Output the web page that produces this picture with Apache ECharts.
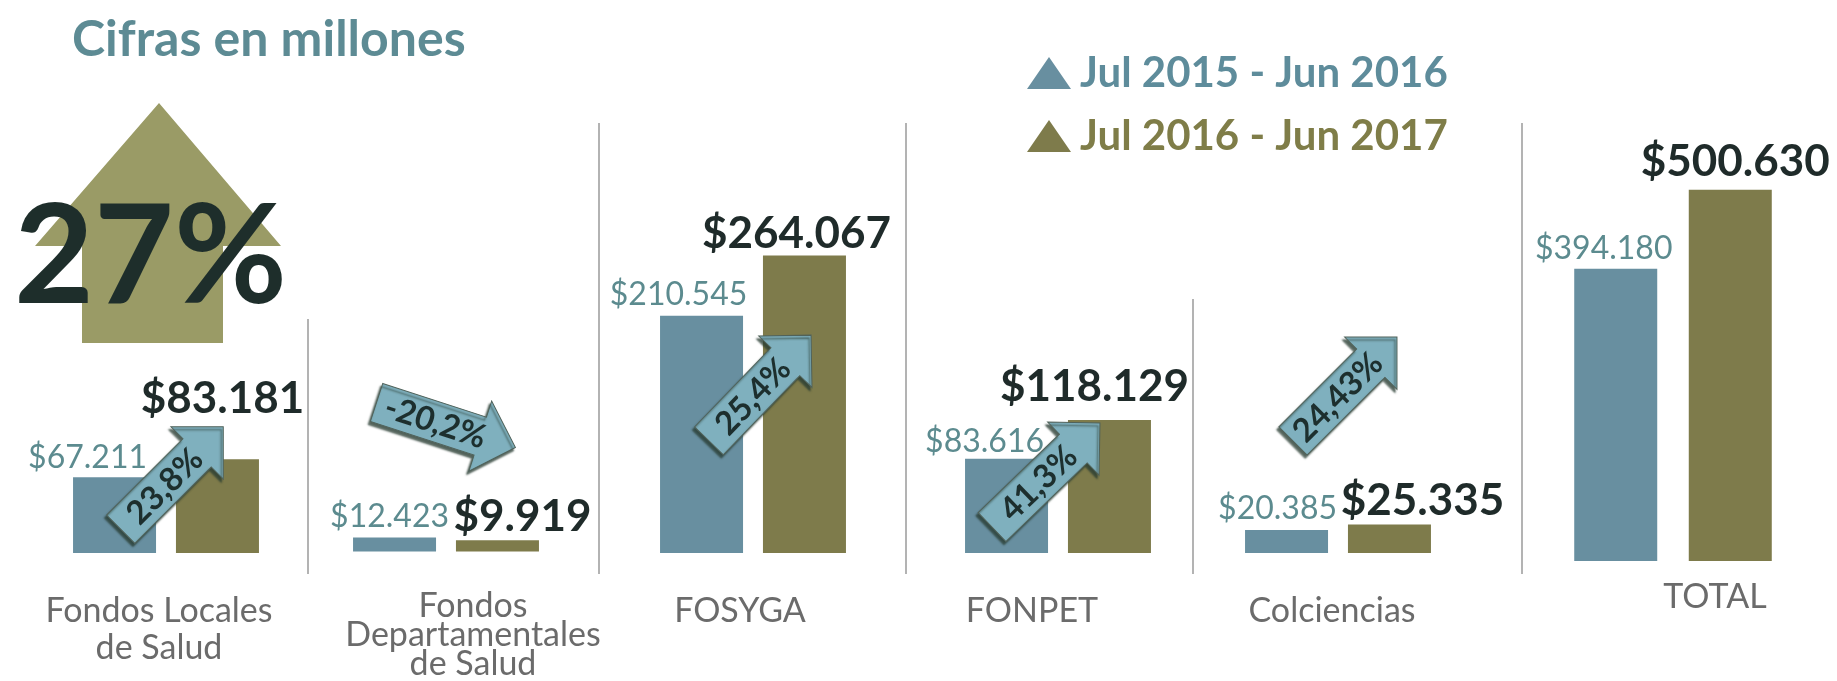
<!DOCTYPE html>
<html>
<head>
<meta charset="utf-8">
<script src="https://cdn.jsdelivr.net/npm/echarts@6/dist/echarts.min.js"></script>
<style>
html, body { margin: 0; padding: 0; background: #fff; }
#chart { width: 1837px; height: 681px; }
</style>
</head>
<body>
<div id="chart"></div>
<script>
// data
var categories = ['Fondos Locales\nde Salud', 'Fondos\nDepartamentales\nde Salud', 'FOSYGA', 'FONPET', 'Colciencias', 'TOTAL'];
var periods = ['Jul 2015 - Jun 2016', 'Jul 2016 - Jun 2017'];
var values2016 = [67211, 12423, 210545, 83616, 20385, 394180];
var values2017 = [83181, 9919, 264067, 118129, 25335, 500630];
var changes = ['23,8%', '-20,2%', '25,4%', '41,3%', '24,43%'];
var totalChange = '27%';

// layout (pixels) for each panel
var panelCenter = [166, 446, 753, 1058, 1338, 1673];
var labelShift = [-7, 27, -13, -26, -6, 42];
var blueOffset = [[-27, -4], [-5, -5], [-23, -5], [-22, -1], [-9, -5], [-12, -4]];
var oliveOffset = [[5, -38], [25, -2], [-8, 0], [-15, -11], [33, -2], [5, -6]];
var arrows = [
  { x: 172, y: 478, angle: 45, len: 145 },
  { x: 446, y: 425, angle: -18, len: 146 },
  { x: 760, y: 388, angle: 46, len: 147 },
  { x: 1046, y: 475, angle: 44, len: 150 },
  { x: 1345, y: 389, angle: 45, len: 147 }
];

var blue = '#688fa0', olive = '#7e7b4b';
var font = 'Lato, "Open Sans", sans-serif';

function money(v) {
  return '$' + String(v).replace(/\B(?=(\d{3})+(?!\d))/g, '.');
}

var myChart = echarts.init(document.getElementById('chart'));

var grids = [], xAxes = [], yAxes = [], series = [];
for (var i = 0; i < categories.length; i++) {
  var isTotal = i == categories.length - 1;
  grids.push({
    left: panelCenter[i] - 120,
    width: 240,
    top: isTotal ? 116 : 215,
    bottom: isTotal ? 120 : 128
  });
  xAxes.push({
    gridIndex: i,
    type: 'category',
    data: [categories[i]],
    axisLine: { show: false },
    axisTick: { show: false },
    axisLabel: {
      interval: 0,
      margin: isTotal ? 18 : 40,
      color: '#6b6b6b',
      fontFamily: font,
      fontSize: 34,
      lineHeight: i == 1 ? 29 : 37,
      padding: labelShift[i] > 0 ? [0, 0, 0, 2 * labelShift[i]] : [0, -2 * labelShift[i], 0, 0]
    }
  });
  yAxes.push({
    gridIndex: i,
    type: 'value',
    min: 0,
    max: isTotal ? 600000 : 300000,
    show: false
  });
  series.push({
    name: periods[0],
    type: 'bar',
    xAxisIndex: i,
    yAxisIndex: i,
    barWidth: 83,
    barGap: isTotal ? '38%' : '24%',
    itemStyle: { color: blue },
    label: {
      show: true,
      position: 'top',
      distance: 0,
      offset: blueOffset[i],
      color: '#5c8b8f',
      fontFamily: font,
      fontSize: 32,
      formatter: function (p) { return money(p.value); }
    },
    data: [values2016[i]]
  });
  series.push({
    name: periods[1],
    type: 'bar',
    xAxisIndex: i,
    yAxisIndex: i,
    barWidth: 83,
    barGap: isTotal ? '38%' : '24%',
    itemStyle: { color: olive },
    label: {
      show: true,
      position: 'top',
      distance: 0,
      offset: oliveOffset[i],
      color: '#1f2b2a',
      fontFamily: font,
      fontWeight: 'bold',
      fontSize: 44,
      formatter: function (p) { return money(p.value); }
    },
    data: [values2017[i]]
  });
}

// decorations
var graphics = [];
// separators
[[308, 319], [599, 123], [906, 123], [1193, 299], [1522, 123]].forEach(function (s) {
  graphics.push({
    type: 'line',
    shape: { x1: s[0], y1: s[1], x2: s[0], y2: 574 },
    style: { stroke: '#b3b3b3', lineWidth: 2 }
  });
});
// title
graphics.push({
  type: 'text',
  x: 72,
  y: 40,
  style: {
    text: 'Cifras en millones',
    fill: '#5d8b94',
    font: 'bold 50px ' + font,
    verticalAlign: 'middle'
  }
});
// big arrow
graphics.push({
  type: 'polygon',
  z: 10,
  shape: { points: [[159, 103], [281, 246], [223, 246], [223, 343], [82, 343], [82, 246], [35, 246]] },
  style: { fill: '#9a9b66' }
});
graphics.push({
  type: 'text',
  z: 11,
  x: 14,
  y: 258,
  style: {
    text: totalChange,
    fill: '#1e2e2b',
    font: 'bold 138px ' + font,
    verticalAlign: 'middle'
  }
});
// change arrows
arrows.forEach(function (a, k) {
  var L = a.len, h = 40, head = 37;
  var x0 = -L / 2, x1 = L / 2 - head, x2 = L / 2;
  graphics.push({
    type: 'group',
    z: 20,
    x: a.x,
    y: a.y,
    rotation: a.angle * Math.PI / 180,
    children: [
      {
        type: 'polygon',
        z: 20,
        shape: { points: [[x0, -h / 2], [x1, -h / 2], [x1, -head], [x2, 0], [x1, head], [x1, h / 2], [x0, h / 2]] },
        style: {
          fill: '#7fb0be',
          stroke: '#50625a',
          lineWidth: 1,
          shadowColor: 'rgba(40,60,50,0.8)',
          shadowOffsetX: -2,
          shadowOffsetY: 3,
          shadowBlur: 2
        }
      },
      {
        type: 'text',
        z: 21,
        x: -11,
        y: 1,
        style: {
          text: changes[k],
          fill: '#1d2f2e',
          font: 'bold 33px ' + font,
          align: 'center',
          verticalAlign: 'middle'
        }
      }
    ]
  });
});

var option = {
  animation: false,
  legend: {
    orient: 'vertical',
    left: 1022,
    top: 47,
    icon: 'triangle',
    itemWidth: 44,
    itemHeight: 32,
    itemGap: 21,
    selectedMode: false,
    textStyle: {
      fontFamily: font,
      fontWeight: 'bold',
      fontSize: 42,
      lineHeight: 40,
      padding: [0, 0, 0, 4]
    },
    data: [
      { name: periods[0], textStyle: { color: '#5e8c9b' } },
      { name: periods[1], textStyle: { color: '#7f7d48' } }
    ]
  },
  grid: grids,
  xAxis: xAxes,
  yAxis: yAxes,
  series: series,
  graphic: graphics
};

myChart.setOption(option);
window.addEventListener('resize', () => {
  myChart.resize();
});
</script>
</body>
</html>
